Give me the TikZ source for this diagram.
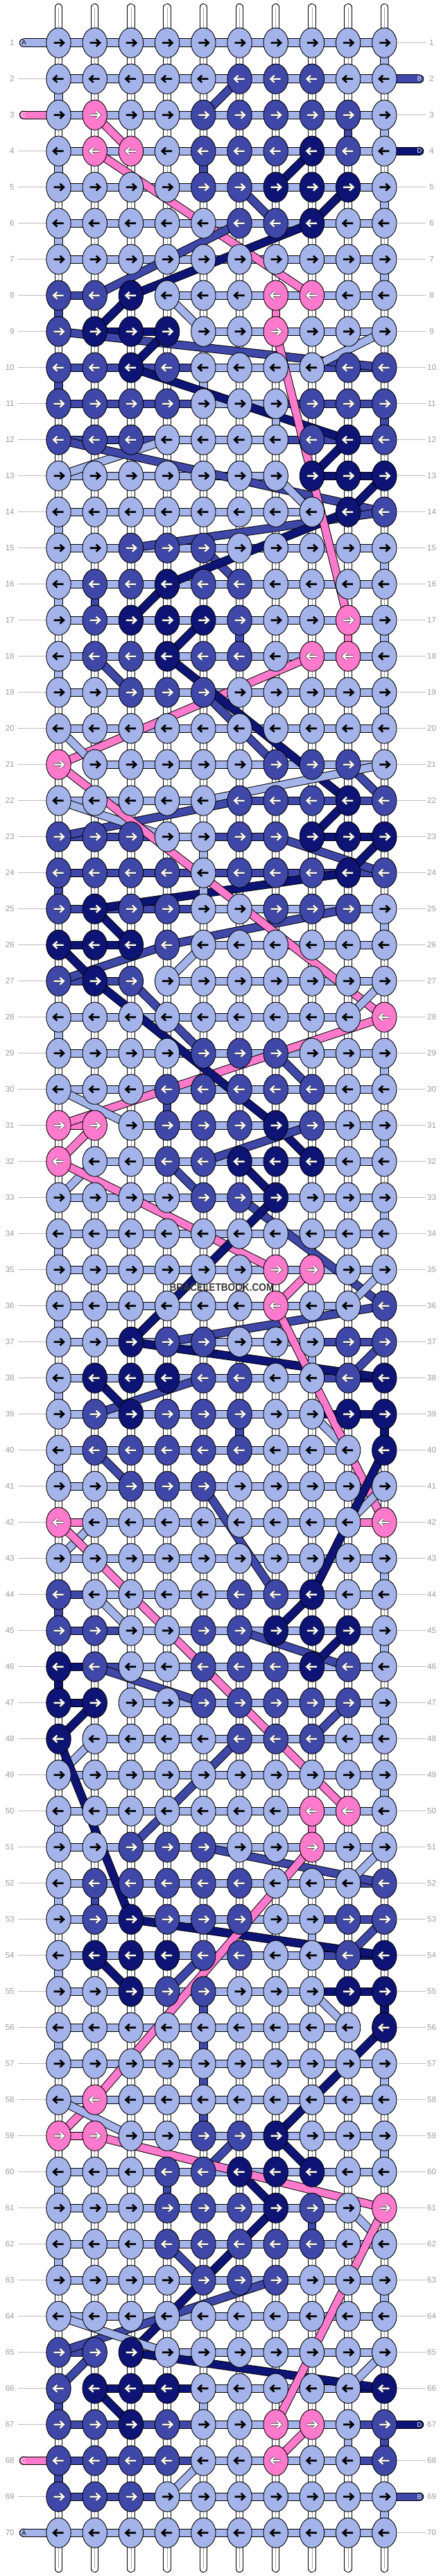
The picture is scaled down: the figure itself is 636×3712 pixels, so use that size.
\documentclass[tikz,border=0pt]{standalone}
\usepackage{fontspec}
\setmainfont{Liberation Sans}
\usepackage{graphicx}
\usepackage{etoolbox}
\usetikzlibrary{shapes.geometric}
\definecolor{cA}{HTML}{A4B4EA}
\definecolor{cB}{HTML}{3F48A8}
\definecolor{cC}{HTML}{FF7ACC}
\definecolor{cD}{HTML}{0E1476}
\definecolor{lblgray}{HTML}{9A9A9A}
\definecolor{linegray}{HTML}{BDBDBD}
\definecolor{wmgray}{HTML}{3A3A3A}
\pgfdeclarelayer{bg}
\pgfdeclarelayer{base}
\pgfdeclarelayer{hD}
\pgfdeclarelayer{hC}
\pgfdeclarelayer{hB}
\pgfdeclarelayer{hA}
\pgfdeclarelayer{diag}
\pgfsetlayers{bg,base,hD,hC,hB,hA,diag,main}
\tikzset{
  knot/.style={ellipse, draw=black, line width=0.9pt, minimum width=35.4pt, minimum height=43.2pt, inner sep=0pt},
  strandout/.style={line width=12.4pt, draw=black},
  strandin/.style={line width=10.4pt},
  lbl/.style={inner sep=0pt, text=lblgray, font=\fontsize{11.5}{12}\selectfont},
  lblline/.style={draw=linegray, line width=1pt},
  stubletter/.style={inner sep=0pt, font=\fontsize{9.5}{10}\selectfont},
}
\newcommand{\strandseg}[3]{%
  \draw[strandout] (#2) -- (#3);
  \draw[strandin, draw=c#1] (#2) -- (#3);
}
\newcommand{\stubcap}[2]{%
  \fill[black] (#2) circle[radius=6.2pt];
  \fill[c#1] (#2) circle[radius=5.2pt];
}
\gdef\layhA{}\gdef\layhB{}\gdef\layhC{}\gdef\layhD{}\gdef\laydiag{}
\begin{document}
\begin{tikzpicture}[x=1pt,y=-1pt]
\begin{pgfonlayer}{bg}
\fill[white] (0,0) rectangle (636,3712);
\end{pgfonlayer}
\useasboundingbox (0,0) rectangle (636,3712);

% base threads
\begin{pgfonlayer}{base}
\foreach \j in {1,...,10}{
  \pgfmathsetmacro\xx{84.5+52.2*(\j-1)}
  \coordinate (bt\j) at (\xx,10.7);
  \coordinate (bb\j) at (\xx,3701.3);
  \draw[line width=11.4pt, black, line cap=round] (bt\j) -- (bb\j);
  \draw[line width=9.4pt, white, line cap=round] (bt\j) -- (bb\j);
  \draw[line width=0.8pt, black!35] (bt\j) -- (bb\j);
}
\end{pgfonlayer}

% row labels
\foreach \i in {1,...,70}{
  \pgfmathsetmacro\yy{61.7+52*(\i-1)}
  \node[lbl, anchor=east] (ll\i) at (20.8,\yy) {\i};
  \node[lbl] (rl\i) at (622.5,\yy) {\i};
}
\foreach \i in {2,4,5,...,67,69}{
  \pgfmathsetmacro\yy{61.7+52*(\i-1)}
  \coordinate (lla\i) at (26,\yy);
  \coordinate (llb\i) at (67,\yy);
  \draw[lblline] (lla\i) -- (llb\i);
}
\foreach \i in {1,3,5,6,...,66,68,70}{
  \pgfmathsetmacro\yy{61.7+52*(\i-1)}
  \coordinate (rla\i) at (572.5,\yy);
  \coordinate (rlb\i) at (613.5,\yy);
  \draw[lblline] (rla\i) -- (rlb\i);
}

% knots
\foreach \row [count=\i] in {
{A,A,A,A,A,A,A,A,A,A},
{A,A,A,A,A,B,B,B,A,A},
{A,C,A,A,B,B,B,B,B,A},
{A,C,C,A,B,B,B,D,B,A},
{A,A,A,A,B,B,D,D,D,A},
{A,A,A,A,A,B,B,D,A,A},
{A,A,A,A,A,A,A,A,A,A},
{B,B,D,A,A,A,C,C,A,A},
{B,D,D,D,A,A,C,A,A,A},
{B,B,D,B,A,A,A,A,B,B},
{B,B,B,B,A,A,A,B,B,B},
{B,B,B,A,A,A,A,B,D,B},
{A,A,A,A,A,A,A,D,D,D},
{A,A,A,A,A,A,A,A,D,B},
{A,A,B,B,B,A,A,A,A,A},
{A,B,B,D,B,B,A,A,A,A},
{A,B,D,D,D,B,A,A,C,A},
{A,B,B,D,B,B,A,C,C,A},
{A,A,B,B,B,A,A,A,A,A},
{A,A,A,A,A,A,A,A,A,A},
{C,A,A,A,A,A,B,B,B,A},
{A,A,A,A,A,B,B,B,D,B},
{B,B,B,A,A,B,B,D,D,D},
{B,B,B,B,A,B,B,B,D,B},
{B,D,B,B,A,A,B,B,B,A},
{D,D,D,B,A,A,A,A,A,A},
{B,D,B,A,A,A,A,A,A,A},
{A,A,A,A,A,A,A,A,A,C},
{A,A,A,A,B,B,B,A,A,A},
{A,A,A,B,B,B,B,B,A,A},
{C,C,A,B,B,B,D,B,A,A},
{C,A,A,B,B,D,D,D,A,A},
{A,A,A,A,B,B,D,A,A,A},
{A,A,A,A,A,A,A,A,A,A},
{A,A,A,A,A,A,C,C,A,A},
{A,A,A,A,A,A,C,A,A,B},
{A,A,D,B,B,A,A,A,B,B},
{A,D,D,D,B,B,A,A,B,D},
{A,B,D,B,B,B,A,A,D,D},
{A,B,B,B,B,B,A,A,A,D},
{A,A,B,B,B,A,A,A,A,A},
{C,A,A,A,A,A,A,A,A,C},
{A,A,A,A,A,A,A,A,A,A},
{B,A,A,A,A,B,B,D,A,A},
{B,B,A,A,B,B,D,D,D,A},
{D,B,A,A,B,B,B,D,B,A},
{D,D,A,A,B,B,B,B,B,A},
{D,A,A,A,A,B,B,B,A,A},
{A,A,A,A,A,A,A,A,A,A},
{A,A,A,A,A,A,A,C,C,A},
{A,A,B,B,B,A,A,C,A,A},
{A,B,B,B,B,B,A,A,A,B},
{A,B,D,B,B,B,A,A,B,B},
{A,D,D,D,B,B,A,A,B,D},
{A,A,D,B,B,A,A,A,D,D},
{A,A,A,A,A,A,A,A,A,D},
{A,A,A,A,A,A,A,A,A,A},
{A,C,A,A,A,A,A,A,A,A},
{C,C,A,A,B,B,D,A,A,A},
{A,A,A,B,B,D,D,D,A,A},
{A,A,A,B,B,B,D,B,A,C},
{A,A,A,B,B,B,B,B,A,A},
{A,A,A,A,B,B,B,A,A,A},
{A,A,A,A,A,A,A,A,A,A},
{B,B,D,A,A,A,A,A,A,A},
{B,D,D,D,A,A,A,A,A,D},
{B,B,D,B,A,A,C,C,A,B},
{B,B,B,B,A,A,C,A,A,B},
{B,B,B,A,A,A,A,A,A,A},
{A,A,A,A,A,A,A,A,A,A}}{
  \foreach \kc [count=\j] in \row {
    \pgfmathsetmacro\xx{84.5+52.2*(\j-1)}
    \pgfmathsetmacro\yy{61.7+52*(\i-1)}
    \node[knot, fill=c\kc] (k\i-\j) at (\xx,\yy) {};
    \expandafter\xdef\csname K\i-\j\endcsname{\kc}
    \ifodd\i\def\dir{1}\else\def\dir{-1}\fi
    \if\kc A
      \draw[shift={(k\i-\j.center)}, xscale=\dir, line width=2.6pt, black]
        (-7,0) -- (7,0) (2,-5) -- (7.4,0) -- (2,5);
    \else
      \draw[shift={(k\i-\j.center)}, xscale=\dir, line width=3.6pt, black!80]
        (-7.2,0) -- (7,0) (2,-5) -- (7.4,0) -- (2,5);
      \draw[shift={(k\i-\j.center)}, xscale=\dir, line width=2.3pt, white]
        (-7,0) -- (7,0) (2,-5) -- (7.4,0) -- (2,5);
    \fi
  }
}

% stub coordinates
\coordinate (sA) at (34,61.7);
\coordinate (sB) at (605,113.7);
\coordinate (sC) at (34,165.7);
\coordinate (sD) at (605,217.7);
\coordinate (eD) at (605,3493.7);
\coordinate (eC) at (34,3545.7);
\coordinate (eB) at (605,3597.7);
\coordinate (eA) at (34,3649.7);

\gdef\strlA{sA}\gdef\strrA{1}
\gdef\strlB{sB}\gdef\strrB{2}
\gdef\strlC{sC}\gdef\strrC{3}
\gdef\strlD{sD}\gdef\strrD{4}

% thread paths, collected per layer
\foreach \i in {1,...,70}{
  \foreach \jt in {1,...,10}{
    \ifodd\i \edef\jj{\jt}\else\pgfmathtruncatemacro\jj{11-\jt}\fi
    \edef\cc{\csname K\i-\jj\endcsname}
    \edef\prev{\csname strl\cc\endcsname}
    \edef\prevrow{\csname strr\cc\endcsname}
    \ifnum\prevrow=\i\relax
      \csxappto{layh\cc}{\noexpand\strandseg{\cc}{\prev.center}{k\i-\jj.center}}%
    \else
      \xappto\laydiag{\noexpand\strandseg{\cc}{\prev.center}{k\i-\jj.center}}%
    \fi
    \expandafter\xdef\csname strl\cc\endcsname{k\i-\jj}
    \expandafter\xdef\csname strr\cc\endcsname{\i}
  }
}
\begin{pgfonlayer}{hD}
\stubcap{D}{sD}\stubcap{D}{eD}
\layhD
\strandseg{D}{\strlD.center}{eD}
\end{pgfonlayer}
\begin{pgfonlayer}{hC}
\stubcap{C}{sC}\stubcap{C}{eC}
\layhC
\strandseg{C}{\strlC.center}{eC}
\end{pgfonlayer}
\begin{pgfonlayer}{hB}
\stubcap{B}{sB}\stubcap{B}{eB}
\layhB
\strandseg{B}{\strlB.center}{eB}
\end{pgfonlayer}
\begin{pgfonlayer}{hA}
\stubcap{A}{sA}\stubcap{A}{eA}
\layhA
\strandseg{A}{\strlA.center}{eA}
\end{pgfonlayer}
\begin{pgfonlayer}{diag}
\laydiag
\end{pgfonlayer}

% stub letters
\node[stubletter, text=black] (tA1) at (34.5,61.7) {A};
\node[stubletter, text=white] (tB1) at (605,113.7) {B};
\node[stubletter, text=white] (tC1) at (34,165.7) {C};
\node[stubletter, text=white] (tD1) at (605,217.7) {D};
\node[stubletter, text=white] (tD2) at (605,3493.7) {D};
\node[stubletter, text=white] (tC2) at (34,3545.7) {C};
\node[stubletter, text=white] (tB2) at (605,3597.7) {B};
\node[stubletter, text=black] (tA2) at (34.5,3649.7) {A};

% watermark
\node[inner sep=0pt, text=wmgray, font=\bfseries\fontsize{15.5}{16}\selectfont] (wm) at (320,1855) {\scalebox{0.88}[1]{BRACELETBOOK.COM}};
\end{tikzpicture}
\end{document}
